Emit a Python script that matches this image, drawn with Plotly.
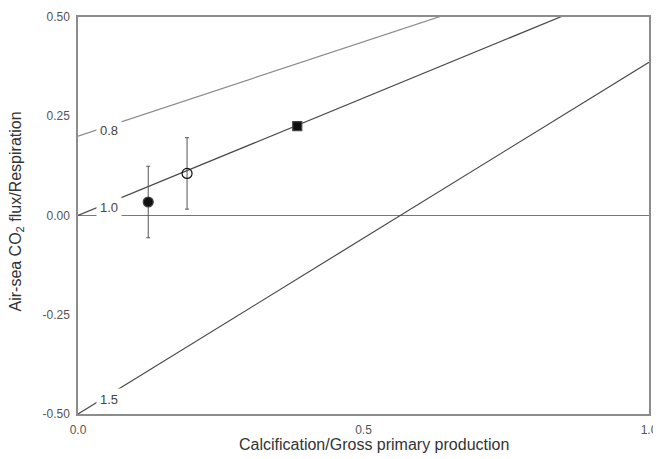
import plotly.graph_objects as go

# P/R isolines: value at x=0 and x=1
line_labels = ["0.8", "1.0", "1.5"]
line_y_at_0 = [0.20, 0.0, -0.50]
line_y_at_1 = [0.675, 0.592, 0.386]
line_x = [0.0, 1.0]

# observations
pt_x = [0.123, 0.191, 0.384]
pt_y = [0.034, 0.106, 0.225]
pt_err = [0.09, 0.09, None]
pt_symbol = ["circle", "circle-open", "square"]

x_ticks = [0.0, 0.5, 1.0]
x_ticklabels = ["0.0", "0.5", "1.0"]
y_ticks = [-0.5, -0.25, 0.0, 0.25, 0.5]
y_ticklabels = ["-0.50", "-0.25", "0.00", "0.25", "0.50"]

x_title = "Calcification/Gross primary production"
y_title = "Air-sea CO<sub>2</sub> flux/Respiration"

line_colors = ["#8a8a8a", "#4a4a4a", "#4a4a4a"]
FONT = "Liberation Sans, Arial"

fig = go.Figure()
for lab, y0, y1, c in zip(line_labels, line_y_at_0, line_y_at_1, line_colors):
    fig.add_trace(go.Scatter(x=line_x, y=[y0, y1], mode="lines",
                             line=dict(color=c, width=1.2), showlegend=False,
                             hoverinfo="skip"))

for x, y, e, s in zip(pt_x, pt_y, pt_err, pt_symbol):
    err = dict(type="data", array=[e], color="#555555", thickness=1, width=2) if e else None
    fig.add_trace(go.Scatter(x=[x], y=[y], mode="markers",
                             marker=dict(symbol=s, size=10 if s != "square" else 9,
                                         color="#111111",
                                         line=dict(color="#444444", width=1.2)),
                             error_y=err, showlegend=False))

# isoline labels (white background hides the line behind)
label_pos_x = 0.055
for lab, y0, y1 in zip(line_labels, line_y_at_0, line_y_at_1):
    yy = y0 + (y1 - y0) * label_pos_x - 0.012
    fig.add_annotation(x=label_pos_x, y=yy, text=lab, showarrow=False,
                       font=dict(family=FONT, size=13, color="#444444"),
                       bgcolor="white", borderpad=3)

# axis titles
fig.add_annotation(x=0.5, y=0, xref="paper", yref="paper", yshift=-20, xshift=10,
                   yanchor="top", text=x_title, showarrow=False,
                   font=dict(family=FONT, size=16, color="#333333"))
fig.add_annotation(x=0, y=0.5, xref="paper", yref="paper", xshift=-62, yshift=4,
                   xanchor="center", text=y_title, showarrow=False, textangle=-90,
                   font=dict(family=FONT, size=16, color="#333333"))

# page body adds an 8px offset; compensate so the plot area lands at 78..649 x 17..414
fig.update_layout(
    width=653, height=451,
    margin=dict(l=70, r=12, t=9, b=45),
    paper_bgcolor="white", plot_bgcolor="white",
    font=dict(family=FONT, color="#444444"),
)
fig.update_xaxes(range=[0, 1], tickvals=x_ticks, ticktext=x_ticklabels,
                 showgrid=False, zeroline=False, showline=True, mirror=True,
                 linecolor="#8c8c8c", linewidth=1.5, ticks="", automargin=False,
                 ticklabelstandoff=4,
                 tickfont=dict(size=12, color="#555555"))
fig.update_yaxes(range=[-0.5, 0.5], tickvals=y_ticks, ticktext=y_ticklabels,
                 showgrid=False, zeroline=True, zerolinecolor="#777777", zerolinewidth=1.2,
                 showline=True, mirror=True, automargin=False,
                 linecolor="#8c8c8c", linewidth=1.5, ticks="", ticklabelstandoff=4,
                 tickfont=dict(size=12, color="#555555"))

fig.write_html("out.html")
